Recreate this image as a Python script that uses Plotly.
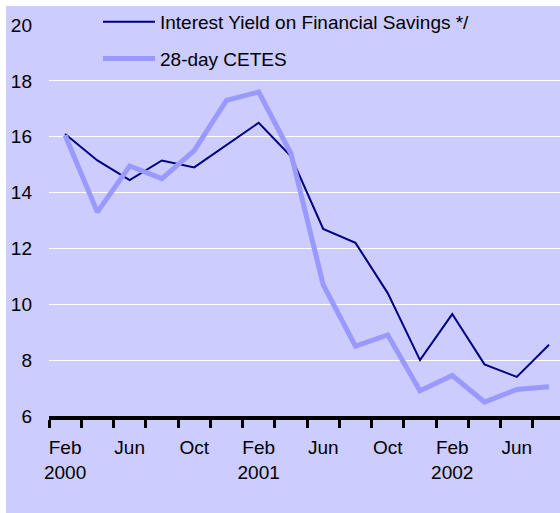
import plotly.graph_objects as go

months = ["Feb 2000", "Apr 2000", "Jun 2000", "Aug 2000", "Oct 2000", "Dec 2000",
          "Feb 2001", "Apr 2001", "Jun 2001", "Aug 2001", "Oct 2001", "Dec 2001",
          "Feb 2002", "Apr 2002", "Jun 2002", "Aug 2002"]
tick_text = ["Feb<br>2000", "", "Jun", "", "Oct", "", "Feb<br>2001", "", "Jun", "",
             "Oct", "", "Feb<br>2002", "", "Jun", ""]
interest_yield = [16.1, 15.15, 14.45, 15.15, 14.9, 15.7, 16.5, 15.3, 12.7, 12.2,
                  10.4, 8.0, 9.65, 7.85, 7.4, 8.55]
cetes_28 = [16.05, 13.3, 14.95, 14.5, 15.5, 17.3, 17.6, 15.4, 10.7, 8.5,
            8.9, 6.9, 7.45, 6.5, 6.95, 7.05]
y_ticks = [6, 8, 10, 12, 14, 16, 18, 20]
y_grid = [8, 10, 12, 14, 16, 18]

W, H = 560, 513
ML, MR, MT, MB = 49, 0, 25, 97
BG = "#CCCCFF"
FONT = "Liberation Sans, Arial, sans-serif"
FS = 19

fig = go.Figure()
fig.add_trace(go.Scatter(x=months, y=interest_yield, mode="lines",
                         name="Interest Yield on Financial Savings */",
                         line=dict(color="#000080", width=2), legendgroup="a"))
fig.add_trace(go.Scatter(x=months, y=cetes_28, mode="lines",
                         name="28-day CETES",
                         line=dict(color="#9999FF", width=5), legendgroup="b"))

pw = W - ML - MR
ph = H - MT - MB
fig.add_shape(type="rect", xref="paper", yref="paper",
              x0=(6 - ML) / pw, x1=(W - ML) / pw,
              y0=-(H - MT - ph) / ph, y1=(ph + MT - 6) / ph,
              fillcolor=BG, line=dict(width=0), layer="below")

fig.update_layout(
    width=W, height=H,
    margin=dict(l=ML, r=MR, t=MT, b=MB, pad=0),
    paper_bgcolor="white", plot_bgcolor=BG,
    font=dict(family=FONT, size=FS, color="black"),
    showlegend=True,
    legend=dict(x=(98 - ML) / pw, y=(ph + MT - 3) / ph, xanchor="left", yanchor="top",
                bgcolor="rgba(0,0,0,0)", itemwidth=52, tracegroupgap=9,
                font=dict(size=FS, family=FONT)),
    xaxis=dict(type="category", range=[-0.5, 15.34], tickmode="array",
               tickvals=months, ticktext=tick_text, tickson="boundaries",
               tickangle=0,
               ticks="outside", ticklen=8, tickwidth=3, tickcolor="black",
               showline=True, linewidth=4, linecolor="black", showgrid=False,
               ticklabelstandoff=11, tickfont=dict(size=FS)),
    yaxis=dict(range=[6, 20], tickmode="array", tickvals=y_ticks, showgrid=False,
               zeroline=False, showline=False, ticks="", ticklabelstandoff=16,
               tickfont=dict(size=FS),
               minor=dict(tickmode="array", tickvals=y_grid, showgrid=True,
                          gridcolor="white", gridwidth=1, ticks="")),
)

fig.write_html("out.html", config={"displayModeBar": False},
               post_script="document.body.style.margin='0';document.body.style.overflow='hidden';")
